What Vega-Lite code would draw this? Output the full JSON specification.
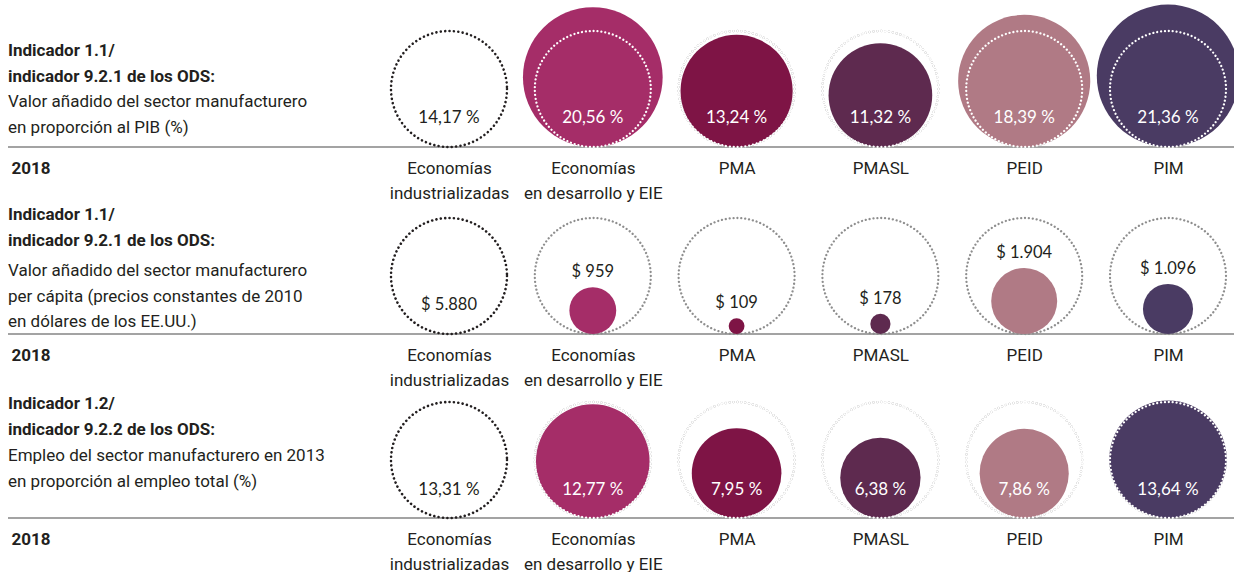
{
  "$schema": "https://vega.github.io/schema/vega-lite/v6.json",
  "padding": {"left": 7, "top": 0, "right": 0, "bottom": 0},
  "background": "white",
  "spacing": 0,
  "bounds": "flush",
  "resolve": {"scale": {"size": "independent", "color": "independent", "x": "independent", "y": "independent"}},
  "datasets": {
    "fila1": [
      {"grupo": "Economías industrializadas", "valor": 14.17, "ref": 14.17, "etiqueta": "14,17 %"},
      {"grupo": "Economías en desarrollo y EIE", "valor": 20.56, "ref": 14.17, "etiqueta": "20,56 %"},
      {"grupo": "PMA", "valor": 13.24, "ref": 14.17, "etiqueta": "13,24 %"},
      {"grupo": "PMASL", "valor": 11.32, "ref": 14.17, "etiqueta": "11,32 %"},
      {"grupo": "PEID", "valor": 18.39, "ref": 14.17, "etiqueta": "18,39 %"},
      {"grupo": "PIM", "valor": 21.36, "ref": 14.17, "etiqueta": "21,36 %"}
    ],
    "fila2": [
      {"grupo": "Economías industrializadas", "valor": 5880, "ref": 5880, "etiqueta": "$ 5.880"},
      {"grupo": "Economías en desarrollo y EIE", "valor": 959, "ref": 5880, "etiqueta": "$ 959"},
      {"grupo": "PMA", "valor": 109, "ref": 5880, "etiqueta": "$ 109"},
      {"grupo": "PMASL", "valor": 178, "ref": 5880, "etiqueta": "$ 178"},
      {"grupo": "PEID", "valor": 1904, "ref": 5880, "etiqueta": "$ 1.904"},
      {"grupo": "PIM", "valor": 1096, "ref": 5880, "etiqueta": "$ 1.096"}
    ],
    "fila3": [
      {"grupo": "Economías industrializadas", "valor": 13.31, "ref": 13.31, "etiqueta": "13,31 %"},
      {"grupo": "Economías en desarrollo y EIE", "valor": 12.77, "ref": 13.31, "etiqueta": "12,77 %"},
      {"grupo": "PMA", "valor": 7.95, "ref": 13.31, "etiqueta": "7,95 %"},
      {"grupo": "PMASL", "valor": 6.38, "ref": 13.31, "etiqueta": "6,38 %"},
      {"grupo": "PEID", "valor": 7.86, "ref": 13.31, "etiqueta": "7,86 %"},
      {"grupo": "PIM", "valor": 13.64, "ref": 13.31, "etiqueta": "13,64 %"}
    ]
  },
  "vconcat": [
    {
      "width": 1227, "height": 147,
      "data": {"name": "fila1"},
      "resolve": {"scale": {"x": "independent", "y": "independent"}},
      "layer": [
        {"data": {"values": [{}]},
         "mark": {"type": "rule", "color": "#a3a3a3", "strokeWidth": 2},
         "encoding": {"y": {"datum": 0, "type": "quantitative", "scale": {"domain": [0, 1]}, "axis": null}}},
        {
          "encoding": {"x": {"field": "grupo", "type": "nominal", "title": "2018", "scale": {"type": "point", "domain": ["Economías industrializadas", "Economías en desarrollo y EIE", "PMA", "PMASL", "PEID", "PIM"], "range": [441, 1160], "padding": 0}}},
          "layer": [
            {"transform": [{"filter": "datum.grupo != 'Economías industrializadas'"}],
             "mark": {"type": "point", "shape": "circle", "filled": false, "stroke": "#8e8e8e", "strokeWidth": 2.3, "strokeDash": [0.01, 3.9], "strokeCap": "round", "opacity": 1},
             "encoding": {"y": {"field": "ref", "type": "quantitative", "scale": {"type": "sqrt", "domain": [0, 14.17], "range": [147, 89], "nice": false}, "axis": null},
                          "size": {"field": "ref", "type": "quantitative", "scale": {"type": "linear", "domain": [0, 14.17], "range": [0, 13456], "nice": false}, "legend": null}}},
            {"transform": [{"filter": "datum.grupo != 'Economías industrializadas'"}],
             "mark": {"type": "point", "shape": "circle", "filled": true, "opacity": 1, "strokeWidth": 0},
             "encoding": {"y": {"field": "valor", "type": "quantitative", "scale": {"type": "sqrt", "domain": [0, 14.17], "range": [147, 89], "nice": false}, "axis": null},
                          "size": {"field": "valor", "type": "quantitative", "scale": {"type": "linear", "domain": [0, 14.17], "range": [0, 13456], "nice": false}, "legend": null},
                          "color": {"field": "grupo", "type": "nominal", "scale": {"domain": ["Economías industrializadas", "Economías en desarrollo y EIE", "PMA", "PMASL", "PEID", "PIM"], "range": ["#ffffff", "#A52D68", "#7E1445", "#5E2A4F", "#B07A85", "#4A3B63"]}, "legend": null}}},
            {"transform": [{"filter": "datum.grupo != 'Economías industrializadas'"}],
             "mark": {"type": "point", "shape": "circle", "filled": false, "stroke": "#ffffff", "strokeWidth": 2.3, "strokeDash": [0.01, 3.9], "strokeCap": "round", "opacity": 1},
             "encoding": {"y": {"field": "ref", "type": "quantitative", "scale": {"type": "sqrt", "domain": [0, 14.17], "range": [147, 89], "nice": false}, "axis": null},
                          "size": {"field": "ref", "type": "quantitative", "scale": {"type": "linear", "domain": [0, 14.17], "range": [0, 13456], "nice": false}, "legend": null}}},
            {"transform": [{"filter": "datum.grupo == 'Economías industrializadas'"}],
             "mark": {"type": "point", "shape": "circle", "filled": false, "stroke": "#231f20", "strokeWidth": 2.6, "strokeDash": [0.01, 4.4], "strokeCap": "round", "opacity": 1},
             "encoding": {"y": {"field": "ref", "type": "quantitative", "scale": {"type": "sqrt", "domain": [0, 14.17], "range": [147, 89], "nice": false}, "axis": null},
                          "size": {"field": "ref", "type": "quantitative", "scale": {"type": "linear", "domain": [0, 14.17], "range": [0, 13456], "nice": false}, "legend": null}}},
            {"mark": {"type": "text", "baseline": "middle", "dy": -29, "font": "Lato", "fontSize": 17},
             "encoding": {"y": {"datum": 0, "type": "quantitative", "scale": {"type": "sqrt", "domain": [0, 14.17], "range": [147, 89], "nice": false}, "axis": null},
                          "text": {"field": "etiqueta"},
                          "color": {"condition": {"test": "datum.grupo == 'Economías industrializadas'", "value": "#231f20"}, "value": "#ffffff"}}}
          ]
        },
        {"data": {"values": [{}]},
         "mark": {"type": "text", "align": "left", "baseline": "top", "font": "Roboto", "fontSize": 17, "fontWeight": "bold", "lineHeight": 25.5, "color": "#231f20", "dy": -104, "text": ["Indicador 1.1/", "indicador 9.2.1 de los ODS:"]},
         "encoding": {"x": {"datum": 0, "type": "quantitative", "scale": {"domain": [0, 1]}, "axis": null}, "y": {"datum": 0, "type": "quantitative", "scale": {"domain": [0, 1]}, "axis": null}}},
        {"data": {"values": [{}]},
         "mark": {"type": "text", "align": "left", "baseline": "top", "font": "Roboto", "fontSize": 17, "lineHeight": 25.5, "color": "#231f20", "dy": -52.7, "text": ["Valor añadido del sector manufacturero", "en proporción al PIB (%)"]},
         "encoding": {"x": {"datum": 0, "type": "quantitative", "scale": {"domain": [0, 1]}, "axis": null}, "y": {"datum": 0, "type": "quantitative", "scale": {"domain": [0, 1]}, "axis": null}}}
      ]
    },
    {
      "width": 1227, "height": 187,
      "data": {"name": "fila2"},
      "resolve": {"scale": {"x": "independent", "y": "independent"}},
      "layer": [
        {"data": {"values": [{}]},
         "mark": {"type": "rule", "color": "#a3a3a3", "strokeWidth": 2},
         "encoding": {"y": {"datum": 0, "type": "quantitative", "scale": {"domain": [0, 1]}, "axis": null}}},
        {
          "encoding": {"x": {"field": "grupo", "type": "nominal", "title": "2018", "scale": {"type": "point", "domain": ["Economías industrializadas", "Economías en desarrollo y EIE", "PMA", "PMASL", "PEID", "PIM"], "range": [441, 1160], "padding": 0}}},
          "layer": [
            {"transform": [{"filter": "datum.grupo != 'Economías industrializadas'"}],
             "mark": {"type": "point", "shape": "circle", "filled": false, "stroke": "#8e8e8e", "strokeWidth": 2.3, "strokeDash": [0.01, 3.9], "strokeCap": "round", "opacity": 1},
             "encoding": {"y": {"field": "ref", "type": "quantitative", "scale": {"type": "sqrt", "domain": [0, 5880], "range": [187, 129], "nice": false}, "axis": null},
                          "size": {"field": "ref", "type": "quantitative", "scale": {"type": "linear", "domain": [0, 5880], "range": [0, 13456], "nice": false}, "legend": null}}},
            {"transform": [{"filter": "datum.grupo != 'Economías industrializadas'"}],
             "mark": {"type": "point", "shape": "circle", "filled": true, "opacity": 1, "strokeWidth": 0},
             "encoding": {"y": {"field": "valor", "type": "quantitative", "scale": {"type": "sqrt", "domain": [0, 5880], "range": [187, 129], "nice": false}, "axis": null},
                          "size": {"field": "valor", "type": "quantitative", "scale": {"type": "linear", "domain": [0, 5880], "range": [0, 13456], "nice": false}, "legend": null},
                          "color": {"field": "grupo", "type": "nominal", "scale": {"domain": ["Economías industrializadas", "Economías en desarrollo y EIE", "PMA", "PMASL", "PEID", "PIM"], "range": ["#ffffff", "#A52D68", "#7E1445", "#5E2A4F", "#B07A85", "#4A3B63"]}, "legend": null}}},
            {"transform": [{"filter": "datum.grupo == 'Economías industrializadas'"}],
             "mark": {"type": "point", "shape": "circle", "filled": false, "stroke": "#231f20", "strokeWidth": 2.6, "strokeDash": [0.01, 4.4], "strokeCap": "round", "opacity": 1},
             "encoding": {"y": {"field": "ref", "type": "quantitative", "scale": {"type": "sqrt", "domain": [0, 5880], "range": [187, 129], "nice": false}, "axis": null},
                          "size": {"field": "ref", "type": "quantitative", "scale": {"type": "linear", "domain": [0, 5880], "range": [0, 13456], "nice": false}, "legend": null}}},
            {"transform": [{"filter": "datum.grupo == 'Economías industrializadas'"}],
             "mark": {"type": "text", "baseline": "middle", "dy": -29, "font": "Lato", "fontSize": 16.5, "color": "#231f20"},
             "encoding": {"y": {"datum": 0, "type": "quantitative", "scale": {"type": "sqrt", "domain": [0, 5880], "range": [187, 129], "nice": false}, "axis": null},
                          "text": {"field": "etiqueta"}}}
          ]
        },
        {"transform": [{"filter": "datum.grupo != 'Economías industrializadas'"}],
         "mark": {"type": "text", "baseline": "middle", "dy": -15, "font": "Lato", "fontSize": 16.5, "color": "#231f20"},
         "encoding": {"x": {"field": "grupo", "type": "nominal", "axis": null, "scale": {"type": "point", "domain": ["Economías industrializadas", "Economías en desarrollo y EIE", "PMA", "PMASL", "PEID", "PIM"], "range": [441, 1160], "padding": 0}},
                      "y": {"field": "valor", "type": "quantitative", "scale": {"type": "sqrt", "domain": [0, 5880], "range": [187, 71], "nice": false}, "axis": null},
                      "text": {"field": "etiqueta"}}},
        {"data": {"values": [{}]},
         "mark": {"type": "text", "align": "left", "baseline": "top", "font": "Roboto", "fontSize": 17, "fontWeight": "bold", "lineHeight": 25.5, "color": "#231f20", "dy": -126.7, "text": ["Indicador 1.1/", "indicador 9.2.1 de los ODS:"]},
         "encoding": {"x": {"datum": 0, "type": "quantitative", "scale": {"domain": [0, 1]}, "axis": null}, "y": {"datum": 0, "type": "quantitative", "scale": {"domain": [0, 1]}, "axis": null}}},
        {"data": {"values": [{}]},
         "mark": {"type": "text", "align": "left", "baseline": "top", "font": "Roboto", "fontSize": 17, "lineHeight": 25.5, "color": "#231f20", "dy": -70.7, "text": ["Valor añadido del sector manufacturero", "per cápita (precios constantes de 2010", "en dólares de los EE.UU.)"]},
         "encoding": {"x": {"datum": 0, "type": "quantitative", "scale": {"domain": [0, 1]}, "axis": null}, "y": {"datum": 0, "type": "quantitative", "scale": {"domain": [0, 1]}, "axis": null}}}
      ]
    },
    {
      "width": 1227, "height": 184,
      "data": {"name": "fila3"},
      "resolve": {"scale": {"x": "independent", "y": "independent"}},
      "layer": [
        {"data": {"values": [{}]},
         "mark": {"type": "rule", "color": "#a3a3a3", "strokeWidth": 2},
         "encoding": {"y": {"datum": 0, "type": "quantitative", "scale": {"domain": [0, 1]}, "axis": null}}},
        {
          "encoding": {"x": {"field": "grupo", "type": "nominal", "title": "2018", "scale": {"type": "point", "domain": ["Economías industrializadas", "Economías en desarrollo y EIE", "PMA", "PMASL", "PEID", "PIM"], "range": [441, 1160], "padding": 0}}},
          "layer": [
            {"transform": [{"filter": "datum.grupo != 'Economías industrializadas'"}],
             "mark": {"type": "point", "shape": "circle", "filled": false, "stroke": "#8e8e8e", "strokeWidth": 2.3, "strokeDash": [0.01, 3.9], "strokeCap": "round", "opacity": 1},
             "encoding": {"y": {"field": "ref", "type": "quantitative", "scale": {"type": "sqrt", "domain": [0, 13.31], "range": [184, 126], "nice": false}, "axis": null},
                          "size": {"field": "ref", "type": "quantitative", "scale": {"type": "linear", "domain": [0, 13.31], "range": [0, 13456], "nice": false}, "legend": null}}},
            {"transform": [{"filter": "datum.grupo != 'Economías industrializadas'"}],
             "mark": {"type": "point", "shape": "circle", "filled": true, "opacity": 1, "strokeWidth": 0},
             "encoding": {"y": {"field": "valor", "type": "quantitative", "scale": {"type": "sqrt", "domain": [0, 13.31], "range": [184, 126], "nice": false}, "axis": null},
                          "size": {"field": "valor", "type": "quantitative", "scale": {"type": "linear", "domain": [0, 13.31], "range": [0, 13456], "nice": false}, "legend": null},
                          "color": {"field": "grupo", "type": "nominal", "scale": {"domain": ["Economías industrializadas", "Economías en desarrollo y EIE", "PMA", "PMASL", "PEID", "PIM"], "range": ["#ffffff", "#A52D68", "#7E1445", "#5E2A4F", "#B07A85", "#4A3B63"]}, "legend": null}}},
            {"transform": [{"filter": "datum.grupo != 'Economías industrializadas'"}],
             "mark": {"type": "point", "shape": "circle", "filled": false, "stroke": "#ffffff", "strokeWidth": 2.3, "strokeDash": [0.01, 3.9], "strokeCap": "round", "opacity": 1},
             "encoding": {"y": {"field": "ref", "type": "quantitative", "scale": {"type": "sqrt", "domain": [0, 13.31], "range": [184, 126], "nice": false}, "axis": null},
                          "size": {"field": "ref", "type": "quantitative", "scale": {"type": "linear", "domain": [0, 13.31], "range": [0, 13456], "nice": false}, "legend": null}}},
            {"transform": [{"filter": "datum.grupo == 'Economías industrializadas'"}],
             "mark": {"type": "point", "shape": "circle", "filled": false, "stroke": "#231f20", "strokeWidth": 2.6, "strokeDash": [0.01, 4.4], "strokeCap": "round", "opacity": 1},
             "encoding": {"y": {"field": "ref", "type": "quantitative", "scale": {"type": "sqrt", "domain": [0, 13.31], "range": [184, 126], "nice": false}, "axis": null},
                          "size": {"field": "ref", "type": "quantitative", "scale": {"type": "linear", "domain": [0, 13.31], "range": [0, 13456], "nice": false}, "legend": null}}},
            {"mark": {"type": "text", "baseline": "middle", "dy": -28, "font": "Lato", "fontSize": 17},
             "encoding": {"y": {"datum": 0, "type": "quantitative", "scale": {"type": "sqrt", "domain": [0, 13.31], "range": [184, 126], "nice": false}, "axis": null},
                          "text": {"field": "etiqueta"},
                          "color": {"condition": {"test": "datum.grupo == 'Economías industrializadas'", "value": "#231f20"}, "value": "#ffffff"}}}
          ]
        },
        {"data": {"values": [{}]},
         "mark": {"type": "text", "align": "left", "baseline": "top", "font": "Roboto", "fontSize": 17, "fontWeight": "bold", "lineHeight": 25.5, "color": "#231f20", "dy": -121.7, "text": ["Indicador 1.2/", "indicador 9.2.2 de los ODS:"]},
         "encoding": {"x": {"datum": 0, "type": "quantitative", "scale": {"domain": [0, 1]}, "axis": null}, "y": {"datum": 0, "type": "quantitative", "scale": {"domain": [0, 1]}, "axis": null}}},
        {"data": {"values": [{}]},
         "mark": {"type": "text", "align": "left", "baseline": "top", "font": "Roboto", "fontSize": 17, "lineHeight": 25.5, "color": "#231f20", "dy": -69.7, "text": ["Empleo del sector manufacturero en 2013", "en proporción al empleo total (%)"]},
         "encoding": {"x": {"datum": 0, "type": "quantitative", "scale": {"domain": [0, 1]}, "axis": null}, "y": {"datum": 0, "type": "quantitative", "scale": {"domain": [0, 1]}, "axis": null}}}
      ]
    }
  ],
  "config": {
    "view": {"stroke": null},
    "axisX": {
      "domain": false, "ticks": false, "grid": false,
      "labelFont": "Roboto", "labelFontSize": 17, "labelColor": "#231f20",
      "labelPadding": 13, "labelLineHeight": 25, "labelAngle": 0, "labelOverlap": false, "labelBound": false, "labelFlush": false,
      "labelExpr": "indexof(datum.label, 'Economías ') == 0 ? ['Economías', substring(datum.label, 10)] : datum.label",
      "titleFont": "Roboto", "titleFontSize": 17, "titleFontWeight": "bold", "titleColor": "#231f20",
      "titleAnchor": "start", "titleAlign": "left", "titleBaseline": "top", "titleX": 3, "titleY": 13
    }
  }
}
